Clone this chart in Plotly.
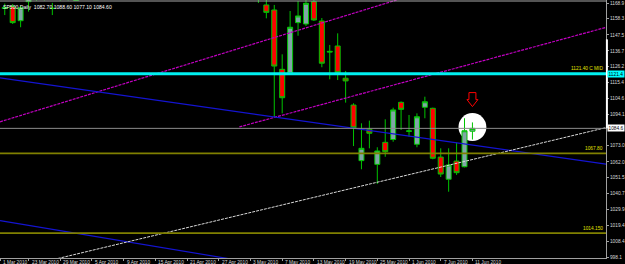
import plotly.graph_objects as go

# ---------------- data ----------------
trade_dates = [
    "2010-03-18", "2010-03-19", "2010-03-22", "2010-03-23", "2010-03-24", "2010-03-25", "2010-03-26",
    "2010-03-29", "2010-03-30", "2010-03-31",
    "2010-04-01", "2010-04-05", "2010-04-06", "2010-04-07", "2010-04-08", "2010-04-09", "2010-04-12",
    "2010-04-13", "2010-04-14", "2010-04-15", "2010-04-16", "2010-04-19", "2010-04-20", "2010-04-21",
    "2010-04-22", "2010-04-23", "2010-04-26", "2010-04-27", "2010-04-28", "2010-04-29", "2010-04-30",
    "2010-05-03", "2010-05-04", "2010-05-05", "2010-05-06", "2010-05-07", "2010-05-10", "2010-05-11",
    "2010-05-12", "2010-05-13", "2010-05-14", "2010-05-17", "2010-05-18", "2010-05-19", "2010-05-20",
    "2010-05-21", "2010-05-24", "2010-05-25", "2010-05-26", "2010-05-27", "2010-05-28",
    "2010-06-01", "2010-06-02", "2010-06-03", "2010-06-04", "2010-06-07", "2010-06-08", "2010-06-09",
    "2010-06-10", "2010-06-11",
]
N = None
opens = [1165.9, 1166.5, 1157.0, 1169.8, 1176.0, 1177.0, 1165.4, 1174.0, 1178.0, 1180.0,
         N, N, N, N, N, N, N, N, N, N, N, N, N, N, N, N, N, N, N, N, N,
         N, 1185.0, 1167.6, 1164.2, 1124.3, 1122.0, 1155.7, 1154.8, 1169.8, 1156.8, 1136.4,
         1140.0, 1118.3, 1100.3, 1062.9, 1084.0, 1060.4, 1075.2, 1077.1, 1102.1,
         1082.6, 1073.9, 1098.8, 1098.1, 1065.3, 1050.4, 1062.6, 1058.8, 1082.70]
highs = [1168.5, 1168.2, 1167.0, 1178.0, 1180.0, 1182.0, 1169.0, 1182.0, 1184.0, 1185.0,
         N, N, N, N, N, N, N, N, N, N, N, N, N, N, N, N, N, N, N, N, N,
         N, 1190.0, 1174.0, 1167.6, 1134.4, 1163.5, 1170.2, 1171.0, 1172.0, 1158.8, 1140.7,
         1148.5, 1123.2, 1101.5, 1088.0, 1089.8, 1071.9, 1090.7, 1098.5, 1102.7,
         1093.6, 1094.7, 1105.9, 1098.5, 1071.2, 1071.2, 1075.0, 1091.4, 1088.60]
lows = [1160.8, 1154.8, 1152.6, 1163.1, 1170.4, 1170.5, 1160.8, 1170.4, 1170.5, 1170.3,
        N, N, N, N, N, N, N, N, N, N, N, N, N, N, N, N, N, N, N, N, N,
        N, 1168.9, 1158.6, 1092.2, 1094.7, 1121.2, 1146.9, 1153.4, 1156.8, 1125.7, 1117.6,
        1117.1, 1101.9, 1072.7, 1057.1, 1071.2, 1047.2, 1065.5, 1075.6, 1083.5,
        1079.0, 1071.9, 1091.4, 1063.8, 1051.9, 1042.0, 1053.3, 1058.4, 1077.10]
closes = [1165.2, 1155.7, 1165.7, 1176.0, 1178.0, 1179.0, 1165.2, 1178.0, 1181.0, 1170.6,
          N, N, N, N, N, N, N, N, N, N, N, N, N, N, N, N, N, N, N, N, N,
          N, 1172.0, 1162.6, 1126.5, 1105.2, 1152.6, 1160.2, 1168.7, 1157.5, 1128.4, 1136.0,
          1122.0, 1116.5, 1085.0, 1071.2, 1081.3, 1069.4, 1068.9, 1097.0, 1097.4,
          1082.9, 1092.4, 1102.5, 1064.5, 1053.9, 1060.0, 1054.8, 1083.0, 1084.60]

title_text = "SP500,Daily  1082.70 1088.60 1077.10 1084.60"

# bottom axis labels (None = left edge of chart)
x_tick_labels = ["1 Mar 2010", "23 Mar 2010", "29 Mar 2010", "5 Apr 2010", "9 Apr 2010", "15 Apr 2010",
                 "21 Apr 2010", "27 Apr 2010", "3 May 2010", "7 May 2010", "13 May 2010", "19 May 2010",
                 "25 May 2010", "1 Jun 2010", "7 Jun 2010", "11 Jun 2010"]
x_tick_dates = [None, "2010-03-23", "2010-03-29", "2010-04-05", "2010-04-09", "2010-04-15",
                "2010-04-21", "2010-04-27", "2010-05-03", "2010-05-07", "2010-05-13", "2010-05-19",
                "2010-05-25", "2010-06-01", "2010-06-07", "2010-06-11"]

y_tick_values = [1168.9, 1158.3, 1147.5, 1136.7, 1126.2, 1115.4, 1104.6, 1094.1,
                 1073.0, 1062.0, 1051.5, 1040.7, 1029.9, 1019.4, 1008.4, 998.1]

# horizontal levels
level_mid = 1121.40
level_bid = 1084.60
level_a = 1067.80
level_b = 1014.150
level_top = 1170.25

# trend lines (bar index, price)
magenta_a_x, magenta_a_y = [-0.6, 60.0], [1089.0, 1188.2]
magenta_b_x, magenta_b_y = [29.6, 75.85], [1085.6, 1152.5]
blue_a_x, blue_a_y = [-0.6, 75.85], [1118.5, 1060.6]
blue_b_x, blue_b_y = [-0.6, 37.12], [1022.6, 989.1]
white_x, white_y = [5.69, 75.85], [995.8, 1085.1]

# ---------------- layout constants ----------------
W, H = 625, 264
ML, MR, MT, MB = 0, 17, 0, 6
X_RANGE = [-0.6, 75.85]
Y_RANGE = [997.43, 1170.92]
plot_w = W - ML - MR
plot_h = H - MT - MB
px_per_x = plot_w / (X_RANGE[1] - X_RANGE[0])
px_per_y = plot_h / (Y_RANGE[1] - Y_RANGE[0])

FONT = "Liberation Sans"
FS = 4.8
GREEN = "#00c400"
BULL = "#80a6a6"
RED = "#ff0000"
AXIS = "#a0a0a0"
TXT = "#d8d8d8"
YEL = "#e0e000"

idx = list(range(len(trade_dates)))

fig = go.Figure()

fig.add_trace(go.Candlestick(
    x=idx, open=opens, high=highs, low=lows, close=closes,
    increasing=dict(line=dict(color=GREEN, width=1), fillcolor=BULL),
    decreasing=dict(line=dict(color=GREEN, width=1), fillcolor=RED),
    whiskerwidth=0, hoverinfo="skip", showlegend=False,
))

def tline(xs, ys, color, width, dash=None):
    fig.add_trace(go.Scatter(x=xs, y=ys, mode="lines",
                             line=dict(color=color, width=width, dash=dash),
                             hoverinfo="skip", showlegend=False))

tline(magenta_a_x, magenta_a_y, "#c000c0", 1.2, "3px,1px")
tline(magenta_b_x, magenta_b_y, "#c000c0", 1.2, "3px,1px")
tline(blue_a_x, blue_a_y, "#1414d2", 1.2)
tline(blue_b_x, blue_b_y, "#1414d2", 1.2)
tline(white_x, white_y, "#d8d8d8", 1.0, "3px,1px")

shapes = []
# white circle around the last bar
last = len(trade_dates) - 1
cx = last
cy = (highs[last] + lows[last]) / 2 + 2.6
r = 14
shapes.append(dict(type="circle", xref="x", yref="y", layer="below",
                   x0=cx - r / px_per_x, x1=cx + r / px_per_x,
                   y0=cy - r / px_per_y, y1=cy + r / px_per_y,
                   fillcolor="white", line=dict(width=0)))

def hline(y, color, width):
    shapes.append(dict(type="line", xref="paper", yref="y", x0=0, x1=1, y0=y, y1=y,
                       line=dict(color=color, width=width), layer="above"))

hline(level_bid, "#8c8c8c", 1)
hline(level_a, "#808000", 1.6)
hline(level_b, "#808000", 1.6)
hline(level_mid, "#00f0f0", 3)
hline(level_top, "#a8a8a8", 1)

# white marker strip on price axis
shapes.append(dict(type="line", xref="paper", yref="y", x0=1.0015, x1=1.0015,
                   y0=level_bid, y1=level_bid + 89 / px_per_y,
                   line=dict(color="white", width=2), layer="above"))

# red down arrow above the circle
def P(dx, dy):
    return f"{cx + dx / px_per_x:.4f},{cy + dy / px_per_y:.4f}"
tip = 20.5
arrow = ("M " + P(-3.5, tip + 14) + " L " + P(3.5, tip + 14) + " L " + P(3.5, tip + 7) +
         " L " + P(5.5, tip + 7) + " L " + P(0, tip) + " L " + P(-5.5, tip + 7) +
         " L " + P(-3.5, tip + 7) + " Z")
shapes.append(dict(type="path", xref="x", yref="y", path=arrow, fillcolor="black",
                   line=dict(color=RED, width=1), layer="above"))

annotations = []
annotations.append(dict(text=title_text, xref="paper", yref="paper", x=0, y=1, xanchor="left",
                        yanchor="top", xshift=1, yshift=-1.5, showarrow=False,
                        font=dict(family=FONT, size=FS + 0.3, color="white")))

for lbl, col, bg, fc in [(f"{level_mid:.1f}", None, "#00ffff", "black"),
                         (f"{level_bid:.1f}", None, "white", "black")]:
    pass

def axis_tag(value, bg):
    annotations.append(dict(text=f"{value:.1f}", xref="paper", yref="y", x=1, y=value,
                            xanchor="left", yanchor="middle", xshift=1, showarrow=False,
                            bgcolor=bg, borderpad=0.5,
                            font=dict(family=FONT, size=FS, color="black")))

axis_tag(level_mid, "#00ffff")
axis_tag(level_bid, "white")

def level_tag(text, value):
    annotations.append(dict(text=text, xref="paper", yref="y", x=1, y=value,
                            xanchor="right", yanchor="bottom", xshift=-1, yshift=0.5,
                            showarrow=False, font=dict(family=FONT, size=FS, color=YEL)))

level_tag(f"{level_mid:.2f} C MID", level_mid)
level_tag(f"{level_a:.2f}", level_a)
level_tag(f"{level_b:.3f}", level_b)

tick_pos = []
for lbl, d in zip(x_tick_labels, x_tick_dates):
    xp = X_RANGE[0] if d is None else trade_dates.index(d)
    tick_pos.append(xp)
    annotations.append(dict(text=lbl, xref="x", yref="paper", x=xp, y=0, xanchor="left",
                            yanchor="top", xshift=1, yshift=0, showarrow=False,
                            font=dict(family=FONT, size=FS, color=TXT)))

fig.update_layout(
    width=W, height=H, margin=dict(l=ML, r=MR, t=MT, b=MB),
    paper_bgcolor="black", plot_bgcolor="black",
    boxgap=0.37, boxgroupgap=0,
    showlegend=False, shapes=shapes, annotations=annotations,
    xaxis=dict(range=X_RANGE, showgrid=False, zeroline=False, showline=True, linecolor=AXIS,
               linewidth=1, ticks="outside", ticklen=2, tickcolor=AXIS, tickvals=tick_pos,
               showticklabels=False, rangeslider=dict(visible=False), fixedrange=True),
    yaxis=dict(range=Y_RANGE, side="right", showgrid=False, zeroline=False, showline=True,
               linecolor=AXIS, linewidth=1, ticks="outside", ticklen=2, tickcolor=AXIS,
               tickvals=y_tick_values, ticktext=[f"{v:.1f}" for v in y_tick_values],
               tickfont=dict(family=FONT, size=FS, color=TXT), fixedrange=True),
)

fig.write_html("out.html")
